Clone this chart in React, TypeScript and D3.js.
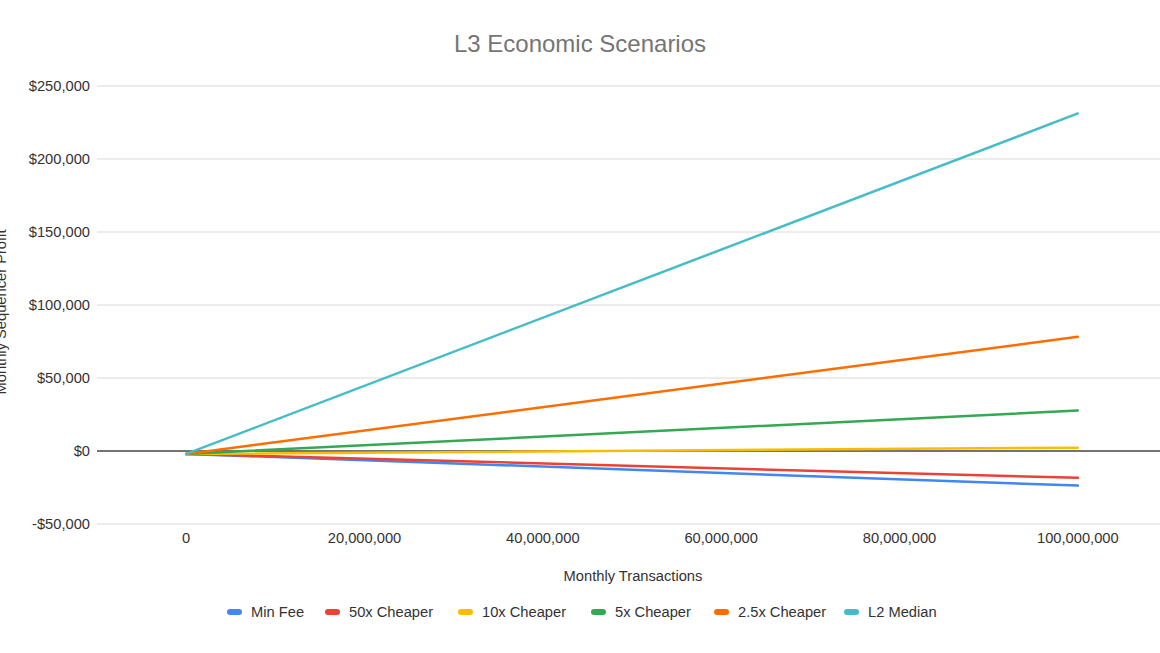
import React from "react";
import * as d3 from "d3";

const seriesNames = ["Min Fee", "50x Cheaper", "10x Cheaper", "5x Cheaper", "2.5x Cheaper", "L2 Median"];
const seriesColors = ["#4285F4", "#EA4335", "#FBBC04", "#34A853", "#FF6D01", "#46BDC6"];
const xValues = [0, 100000000];
const minFee = [-2000, -23700];
const cheaper50 = [-2000, -18400];
const cheaper10 = [-2000, 2300];
const cheaper5 = [-2000, 27700];
const cheaper25 = [-2000, 78200];
const l2Median = [-2000, 231200];
const seriesValues = [minFee, cheaper50, cheaper10, cheaper5, cheaper25, l2Median];
const yTicks = [-50000, 0, 50000, 100000, 150000, 200000, 250000];
const xTicks = [0, 20000000, 40000000, 60000000, 80000000, 100000000];

const W = 1160;
const H = 653;
const FONT = "Arial, 'Liberation Sans', sans-serif";
const FS = 14.7;

export default function App() {
  const x = d3.scaleLinear().domain([-10000000, 110000000]).range([97, 1167]);
  const y = d3.scaleLinear().domain([-50000, 250000]).range([524, 86]);
  const line = d3
    .line<[number, number]>()
    .x((d) => x(d[0]))
    .y((d) => y(d[1]));
  const fmtY = (v: number) => (v < 0 ? "-$" : "$") + d3.format(",")(Math.abs(v));
  const fmtX = d3.format(",");

  const legendTextX = [251, 349, 482, 615, 738, 868];

  return (
    <div style={{ position: "fixed", left: 0, top: 0 }}>
      <svg width={W} height={H} style={{ display: "block", background: "#fff" }} fontFamily={FONT}>
        <rect x={0} y={0} width={W} height={H} fill="#fff" />
        <text x={580} y={52} textAnchor="middle" fontSize={24} fill="#757575">
          L3 Economic Scenarios
        </text>
        {yTicks.map((t) => (
          <g key={t}>
            {t !== 0 && (
              <line x1={97} x2={W} y1={y(t)} y2={y(t)} stroke="#d9d9d9" strokeWidth={1.2} />
            )}
            <text x={90} y={y(t)} dy="0.35em" textAnchor="end" fontSize={FS} fill="#333">
              {fmtY(t)}
            </text>
          </g>
        ))}
        {xTicks.map((t) => (
          <text key={t} x={x(t)} y={538} dy="0.35em" textAnchor="middle" fontSize={FS} fill="#333">
            {fmtX(t)}
          </text>
        ))}
        <text x={633} y={576} dy="0.35em" textAnchor="middle" fontSize={FS} fill="#333">
          Monthly Transactions
        </text>
        <text
          transform={`translate(6, 312) rotate(-90)`}
          textAnchor="middle"
          fontSize={FS}
          fill="#333"
        >
          Monthly Sequencer Profit
        </text>
        <line x1={97} x2={W} y1={y(0)} y2={y(0)} stroke="#444" strokeWidth={1.3} />
        {seriesValues.map((vals, i) => (
          <path
            key={seriesNames[i]}
            d={line(xValues.map((xv, j) => [xv, vals[j]] as [number, number])) || ""}
            fill="none"
            stroke={seriesColors[i]}
            strokeWidth={2.5}
            strokeLinecap="round"
          />
        ))}
        {seriesNames.map((n, i) => (
          <g key={n} transform={`translate(${legendTextX[i]}, 612)`}>
            <rect x={-24} y={-3} width={15} height={6} rx={3} fill={seriesColors[i]} />
            <text x={0} y={0} dy="0.35em" fontSize={FS} fill="#333">
              {n}
            </text>
          </g>
        ))}
      </svg>
    </div>
  );
}
